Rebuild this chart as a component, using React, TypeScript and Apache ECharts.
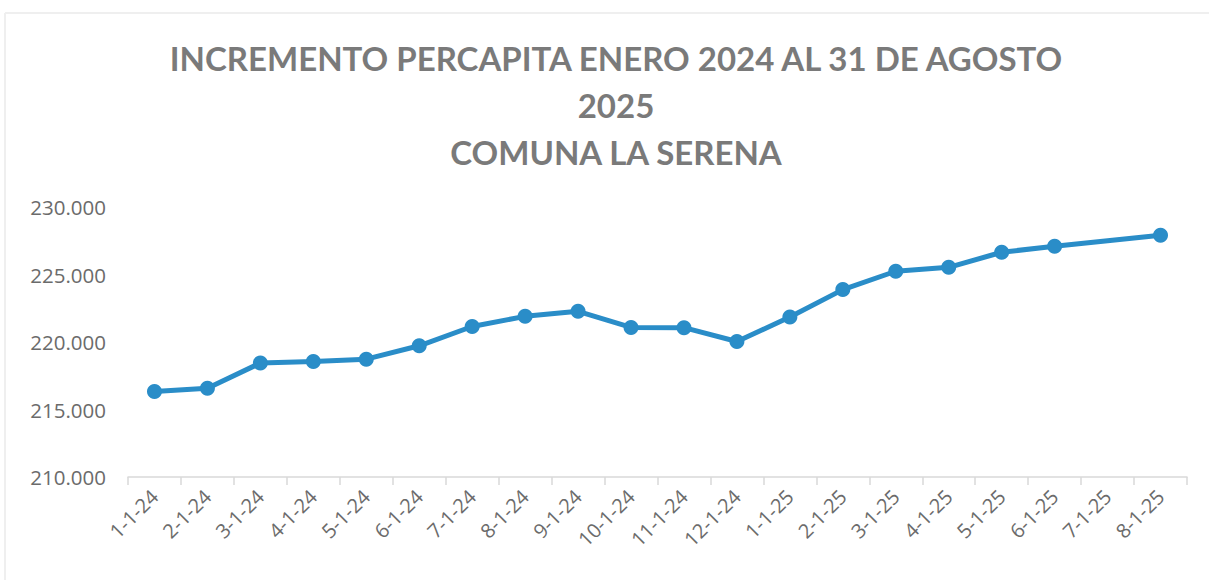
import React, { useEffect, useRef } from "react";
import * as echarts from "echarts";

const categories = [
  "1-1-24", "2-1-24", "3-1-24", "4-1-24", "5-1-24", "6-1-24", "7-1-24",
  "8-1-24", "9-1-24", "10-1-24", "11-1-24", "12-1-24", "1-1-25", "2-1-25",
  "3-1-25", "4-1-25", "5-1-25", "6-1-25", "7-1-25", "8-1-25",
];
const values: (number | null)[] = [
  216330, 216580, 218440, 218560, 218730, 219720, 221150,
  221900, 222270, 221080, 221060, 220040, 221850, 223880,
  225240, 225530, 226650, 227090, null, 227900,
];
const titleLines = [
  "INCREMENTO PERCAPITA ENERO 2024 AL 31 DE AGOSTO",
  "2025",
  "COMUNA LA SERENA",
];
const yMin = 210000;
const yMax = 230000;
const yStep = 5000;

function fmt(v: number): string {
  return String(Math.round(v)).replace(/\B(?=(\d{3})+(?!\d))/g, ".");
}

export default function App() {
  const ref = useRef<HTMLDivElement>(null);
  useEffect(() => {
    if (!ref.current) return;
    const chart = echarts.init(ref.current, undefined, { renderer: "svg" });
    chart.setOption({
      animation: false,
      backgroundColor: "#ffffff",
      title: {
        text: titleLines.join("\n"),
        left: 611,
        top: 29,
        textAlign: "center",
        textStyle: {
          fontFamily: "Lato",
          fontWeight: "bold",
          fontSize: 33,
          lineHeight: 47,
          color: "#7a7a7a",
        },
      },
      graphic: [
        { type: "line", shape: { x1: 5, y1: 13, x2: 1209, y2: 13 }, style: { stroke: "#efefef", lineWidth: 2 } },
        { type: "line", shape: { x1: 5, y1: 13, x2: 5, y2: 580 }, style: { stroke: "#efefef", lineWidth: 2 } },
      ],
      grid: { left: 128, right: 22, top: 207, bottom: 103, containLabel: false },
      xAxis: {
        type: "category",
        data: categories,
        boundaryGap: true,
        axisLine: { show: true, lineStyle: { color: "#d9d9d9", width: 1.5 } },
        axisTick: { show: true, alignWithLabel: false, length: 8, lineStyle: { color: "#d9d9d9", width: 1.5 } },
        axisLabel: {
          interval: 0,
          rotate: 45,
          margin: 16,
          fontFamily: "Open Sans",
          fontSize: 20,
          color: "#6b6b6b",
        },
      },
      yAxis: {
        type: "value",
        min: yMin,
        max: yMax,
        interval: yStep,
        axisLine: { show: false },
        axisTick: { show: false },
        splitLine: { show: false },
        axisLabel: {
          margin: 22,
          fontFamily: "Open Sans",
          fontSize: 20.5,
          color: "#6b6b6b",
          formatter: (v: number) => fmt(v),
        },
      },
      series: [
        {
          type: "line",
          data: values,
          connectNulls: true,
          symbol: "circle",
          symbolSize: 15,
          itemStyle: { color: "#2a8dc8" },
          lineStyle: { color: "#2a8dc8", width: 5 },
        },
      ],
    });
    return () => chart.dispose();
  }, []);
  return (
    <div
      ref={ref}
      style={{ position: "fixed", left: 0, top: 0, width: 1209, height: 580 }}
    />
  );
}
